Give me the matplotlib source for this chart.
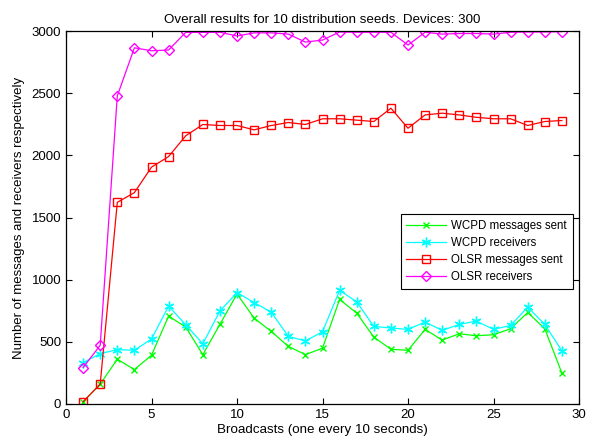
import matplotlib
matplotlib.use('Agg')
import matplotlib.pyplot as plt

plt.rcParams['font.family'] = ['Liberation Sans', 'DejaVu Sans']

broadcasts = list(range(1, 30))
wcpd_sent = [18, 160, 360, 277, 392, 707, 619, 397, 640, 885, 691, 584, 464, 397, 449,
             841, 731, 538, 440, 432, 600, 514, 565, 549, 557, 605, 736, 605, 248]
wcpd_recv = [333, 405, 437, 432, 523, 787, 637, 485, 747, 896, 816, 739, 544, 507, 581,
             914, 822, 624, 611, 600, 659, 592, 640, 667, 600, 632, 779, 640, 427]
olsr_sent = [18, 160, 1622, 1700, 1905, 1990, 2157, 2248, 2240, 2240, 2205, 2240, 2264, 2248, 2294,
             2294, 2283, 2272, 2379, 2218, 2325, 2339, 2325, 2306, 2294, 2294, 2240, 2272, 2280]
olsr_recv = [293, 472, 2478, 2865, 2841, 2847, 2989, 2989, 2990, 2960, 2985, 2985, 2975, 2911, 2927,
             2992, 2990, 2990, 2990, 2887, 2990, 2975, 2980, 2980, 2975, 2990, 2992, 2992, 2995]

fig = plt.figure(figsize=(5.95, 4.42), dpi=100)
ax = fig.add_axes([66 / 595, 1 - 404 / 442, (579 - 66) / 595, (404 - 31) / 442])

asterisk = (6, 2, 0)
ax.plot(broadcasts, wcpd_sent, color='#00ff00', marker='x', markersize=4, lw=0.9,
        label='WCPD messages sent')
ax.plot(broadcasts, wcpd_recv, color='#00ffff', marker=asterisk, markersize=7, lw=0.9,
        label='WCPD receivers')
ax.plot(broadcasts, olsr_sent, color='#ff0000', marker='s', markersize=6, mfc='none', lw=0.9,
        label='OLSR messages sent')
ax.plot(broadcasts, olsr_recv, color='#ff00ff', marker='D', markersize=5.5, mfc='none', lw=0.9,
        label='OLSR receivers')

ax.set_xlim(0, 30)
ax.set_ylim(0, 3000)
ax.set_xticks([0, 5, 10, 15, 20, 25, 30])
ax.set_yticks([0, 500, 1000, 1500, 2000, 2500, 3000])
ax.tick_params(direction='in', top=True, right=True, labelsize=9.5, length=4, width=0.8)
for s in ax.spines.values():
    s.set_linewidth(0.9)

ax.set_xlabel('Broadcasts (one every 10 seconds)', fontsize=9.6, labelpad=2)
ax.set_ylabel('Number of messages and receivers respectively', fontsize=9.5, labelpad=5)
ax.set_title('Overall results for 10 distribution seeds. Devices: 300', fontsize=9.6, pad=6)

leg = ax.legend(loc='upper right', bbox_to_anchor=(0.988, 0.509), borderaxespad=0,
                fontsize=8.3, fancybox=False, edgecolor='black', framealpha=1,
                borderpad=0.5, labelspacing=0.45, handlelength=3.4, handletextpad=0.5)
leg.get_frame().set_linewidth(0.8)

fig.savefig('out.png', dpi=100)
